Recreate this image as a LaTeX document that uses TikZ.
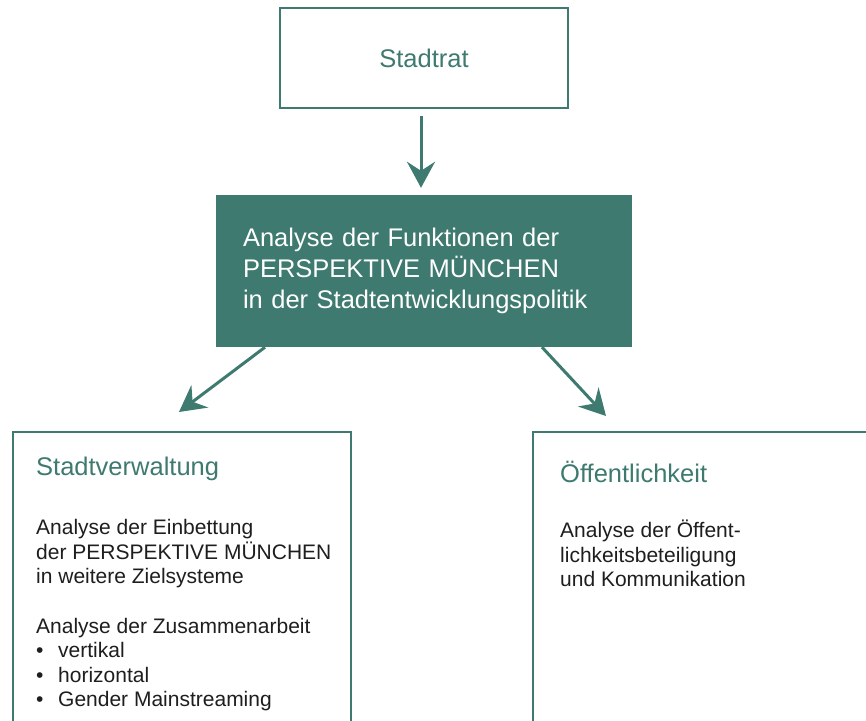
\documentclass[tikz,border=0pt]{standalone}
\usepackage{fontspec}
\setmainfont{Liberation Sans}
\usepackage{tikz}
\usetikzlibrary{positioning,arrows.meta}
\definecolor{PmTeal}{HTML}{3E7A6F}
\definecolor{PmText}{HTML}{1E1E1E}

\begin{document}
\begin{tikzpicture}[x=1pt, y=-1pt,
  frame/.style={draw=PmTeal, line width=2pt, fill=white, inner sep=0pt},
  head/.style={text=PmTeal, font=\fontsize{25.5}{31}\selectfont, inner sep=0pt},
  body/.style={text=PmText, font=\fontsize{21}{24.5}\selectfont, align=left, inner sep=0pt},
  flow/.style={draw=PmTeal, line width=3pt, -{Stealth[length=26pt, width=28pt, inset=9pt]}}]
\clip (0,0) rectangle (866,720);
\fill[white] (0,0) rectangle (866,720);
\node[frame, minimum width=288pt, minimum height=100pt, head] (rat) at (424,58) {Stadtrat};
\node[fill=PmTeal, text=white, font=\fontsize{25.5}{31}\selectfont, align=left, text width=362pt,
  inner xsep=27pt, inner ysep=0pt, minimum height=152pt] (ana) at (424,271)
  {Analyse der Funktionen der\\PERSPEKTIVE MÜNCHEN\\in der Stadtentwicklungspolitik};
\node[frame, minimum width=338pt, minimum height=330pt, anchor=north west] (sv) at (12,431) {};
\node[frame, minimum width=360pt, minimum height=330pt, anchor=north west] (oe) at (532,431) {};
\node[head, below right=26pt and 24pt of sv.north west] (svhead) {Stadtverwaltung};
\node[body, below right=38pt and 0pt of svhead.south west] (svbody)
  {Analyse der Einbettung\\der PERSPEKTIVE MÜNCHEN\\in weitere Zielsysteme\\[25pt]
   Analyse der Zusammenarbeit\\
   \makebox[22pt][l]{\textbullet}vertikal\\
   \makebox[22pt][l]{\textbullet}horizontal\\
   \makebox[22pt][l]{\textbullet}Gender Mainstreaming};
\node[head, below right=30pt and 28pt of oe.north west] (oehead) {Öffentlichkeit};
\node[body, below right=37pt and 0pt of oehead.south west] (oebody)
  {Analyse der Öffent-\\lichkeitsbeteiligung\\und Kommunikation};
\draw[flow] ([xshift=-3pt, yshift=-7pt]rat.south) -- ([xshift=-3pt, yshift=7pt]ana.north);
\draw[flow] ([xshift=-159pt]ana.south) -- ([xshift=167pt, yshift=19pt]sv.north west);
\draw[flow] ([xshift=118pt]ana.south) -- ([xshift=74pt, yshift=15pt]oe.north west);
\end{tikzpicture}
\end{document}
